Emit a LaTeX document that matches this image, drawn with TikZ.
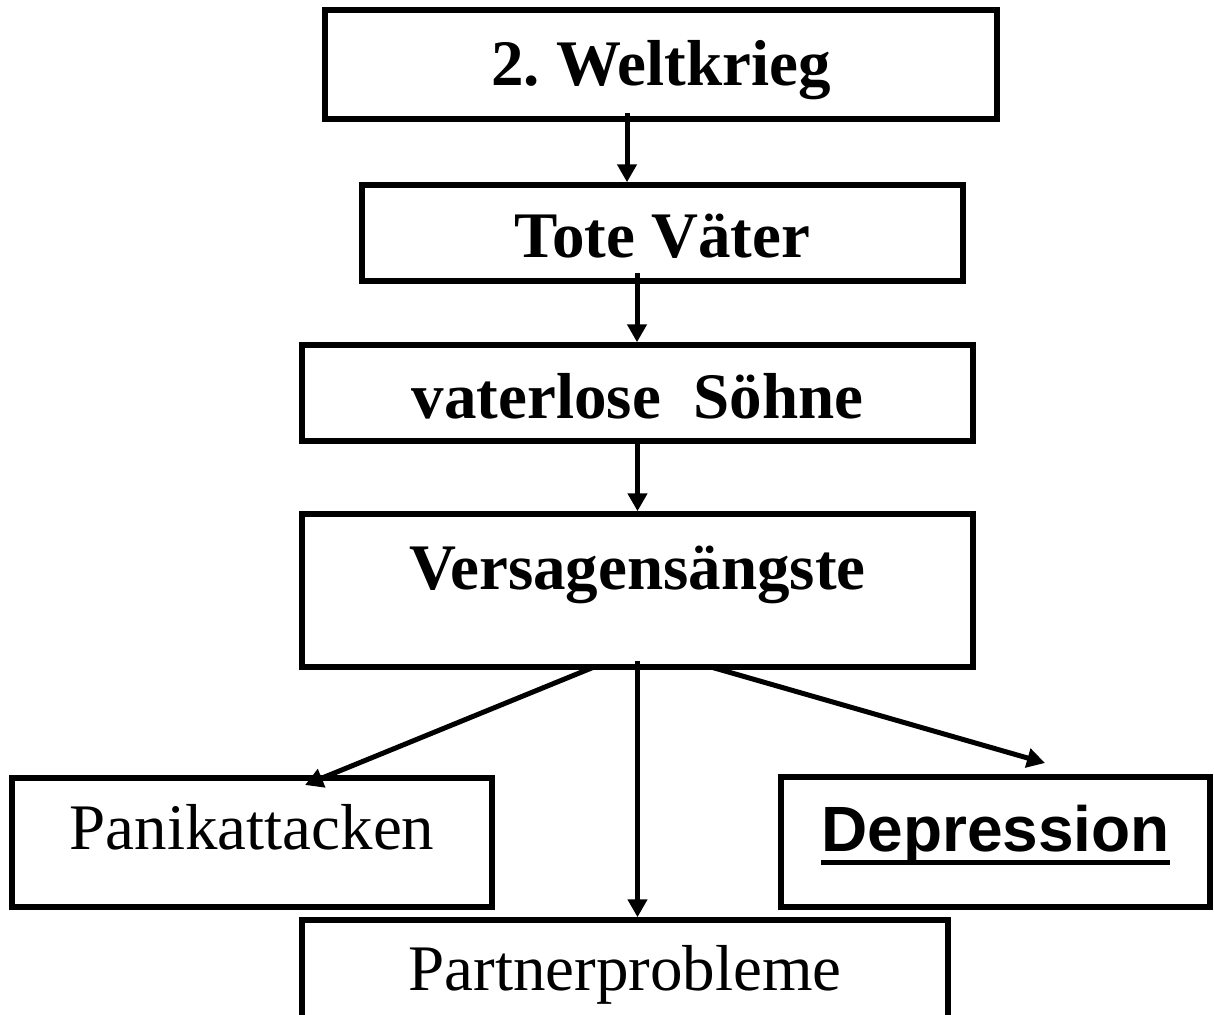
\documentclass[tikz,border=0pt]{standalone}
\usepackage{fontspec}
\setmainfont{Liberation Serif}
\newfontfamily\arialfont{Liberation Sans}
\usetikzlibrary{arrows.meta}
\frenchspacing
\newcommand{\unterstrich}[1]{\setbox0\hbox{#1}\rlap{\rule[-13.5pt]{\wd0}{5pt}}\box0}

\begin{document}
\begin{tikzpicture}[x=1pt,y=-1pt,
kasten/.style={draw,line width=5.5pt,inner sep=0pt,anchor=base,font=\fontsize{65}{70}\selectfont},
fett/.style={kasten,font=\fontsize{65}{70}\selectfont\bfseries},
pfeil/.style={line width=5pt,-{Triangle[length=18pt,width=19pt]}}]
\useasboundingbox (0,0) rectangle (1214,1014);

\node[fett,minimum width=672pt,text height=76pt,text depth=33pt] (krieg) at (661,86) {2. Weltkrieg};
\node[fett,minimum width=601pt,text height=72pt,text depth=24pt] (vaeter) at (662.5,257) {Tote Väter};
\node[fett,minimum width=671pt,text height=73pt,text depth=23pt] (soehne) at (637.5,418) {vaterlose~ Söhne};
\node[fett,minimum width=671pt,text height=75pt,text depth=78pt] (angst) at (637.5,589) {Versagensängste};

\node[kasten,minimum width=480pt,text height=71pt,text depth=58pt] (panik) at (252,849) {Panikattacken};
\node[kasten,minimum width=429pt,text height=74pt,text depth=56pt,font=\fontsize{64}{70}\arialfont\bfseries] (depri) at (995.5,851) {\unterstrich{Depression}};
\node[kasten,minimum width=646pt,text height=70pt,text depth=60pt] (partner) at (625,990) {Partnerprobleme};

\coordinate (k1) at (627,113);
\coordinate (k2) at (637,273);
\coordinate (k3) at (594,667);
\coordinate (k4) at (305,785);
\coordinate (k5) at (711,667);
\coordinate (k6) at (1045,763);

\draw[pfeil] (k1) -- (k1 |- vaeter.north);
\draw[pfeil] (k2) -- (k2 |- soehne.north);
\draw[pfeil] (soehne.south) -- (angst.north);
\draw[pfeil] (k3) -- (k4);
\draw[pfeil] ([yshift=9pt]angst.south) -- (angst.south |- partner.north);
\draw[pfeil] (k5) -- (k6);
\end{tikzpicture}
\end{document}
